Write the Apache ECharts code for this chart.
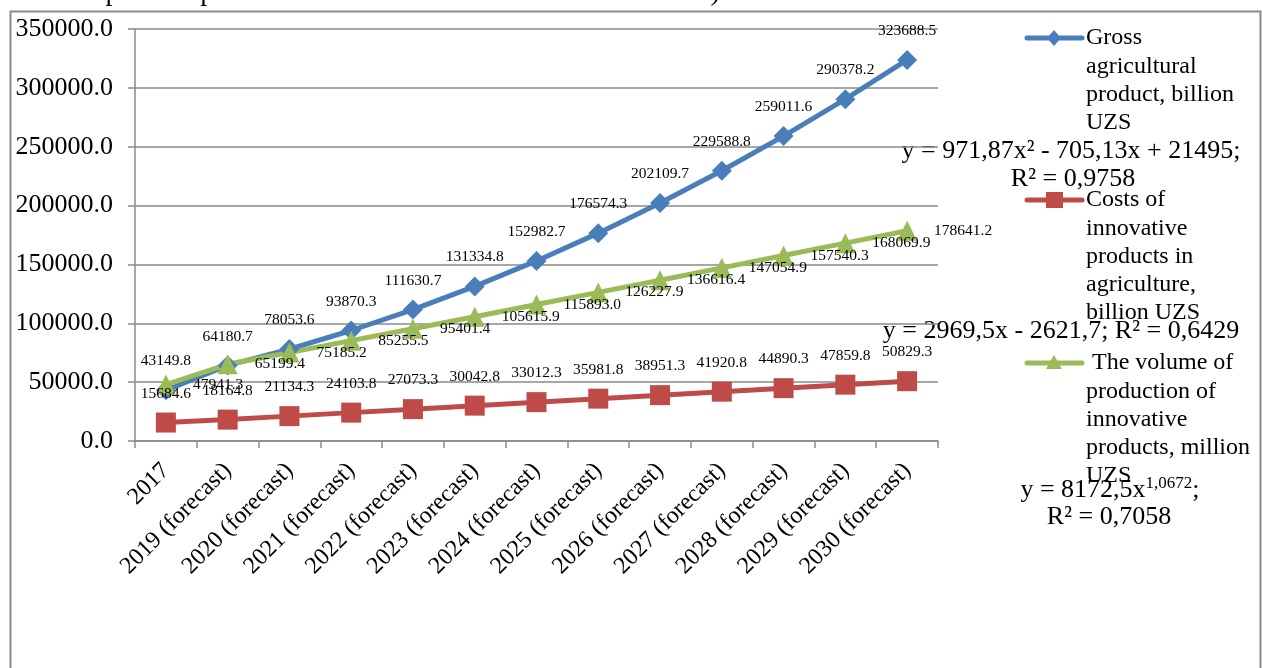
<!DOCTYPE html>
<html>
<head>
<meta charset="utf-8">
<script src="https://cdn.jsdelivr.net/npm/echarts@6/dist/echarts.min.js"></script>
<style>
html,body{margin:0;padding:0;background:#fff;}
#chart{width:1262px;height:668px;}
</style>
</head>
<body>
<div id="chart"></div>
<script>
const categories = ['2017','2019 (forecast)','2020 (forecast)','2021 (forecast)','2022 (forecast)','2023 (forecast)','2024 (forecast)','2025 (forecast)','2026 (forecast)','2027 (forecast)','2028 (forecast)','2029 (forecast)','2030 (forecast)'];
const grossAgri = [43149.8, 64180.7, 78053.6, 93870.3, 111630.7, 131334.8, 152982.7, 176574.3, 202109.7, 229588.8, 259011.6, 290378.2, 323688.5];
const innovCosts = [15684.6, 18164.8, 21134.3, 24103.8, 27073.3, 30042.8, 33012.3, 35981.8, 38951.3, 41920.8, 44890.3, 47859.8, 50829.3];
const innovVolume = [47941.3, 65199.4, 75185.2, 85255.5, 95401.4, 105615.9, 115893.0, 126227.9, 136616.4, 147054.9, 157540.3, 168069.9, 178641.2];
const seriesNames = ['Gross agricultural product, billion UZS', 'Costs of innovative products in agriculture, billion UZS', 'The volume of production of innovative products, million UZS'];
const legendLines = [
  ['Gross', 'agricultural', 'product, billion', 'UZS'],
  ['Costs of', 'innovative', 'products in', 'agriculture,', 'billion UZS'],
  [' The volume of', 'production of', 'innovative', 'products, million', 'UZS']
];
const trendEq1 = ['y = 971,87x² - 705,13x + 21495;', 'R² = 0,9758'];
const trendEq2 = 'y = 2969,5x - 2621,7; R² = 0,6429';
const trendEq3 = ['y = 8172,5x', '1,0672', ';', 'R² = 0,7058'];
const topText = 'ricultural output is expected to increase to 323688.5 billion – times).';
const yMin = 0, yMax = 350000, yStep = 50000;

const FONT = "'Liberation Serif', 'Times New Roman', serif";
const colors = ['#4A7EBB', '#BE4B48', '#9BBB59'];
const symbols = ['diamond', 'rect', 'triangle'];

const chart = echarts.init(document.getElementById('chart'), null, {renderer: 'canvas'});

const graphics = [];
// outer frame
graphics.push({type:'rect', left:8, top:9, z:-10, silent:true,
  shape:{x:0,y:0,width:1250,height:700}, style:{fill:'none', stroke:'#8a8a8a', lineWidth:2}});
// cut-off text at top
graphics.push({type:'text', x:-40, y:7, silent:true,
  style:{text:topText, font:'28px ' + FONT, fill:'#000', textVerticalAlign:'bottom', textAlign:'left'}});

// legend
const legendY = [38, 200, 363];
const legendSym = {
  diamond: (cx, cy) => ({type:'polygon', shape:{points:[[cx,cy-8],[cx+7,cy],[cx,cy+8],[cx-7,cy]]}}),
  rect: (cx, cy) => ({type:'rect', shape:{x:cx-8,y:cy-8,width:17,height:16}}),
  triangle: (cx, cy) => ({type:'polygon', shape:{points:[[cx,cy-8],[cx+8,cy+6],[cx-8,cy+6]]}})
};
for (let i = 0; i < 3; i++) {
  const y = legendY[i];
  graphics.push({type:'line', silent:true, shape:{x1:1027,y1:y,x2:1082,y2:y},
    style:{stroke:colors[i], lineWidth:5, lineCap:'round'}});
  const s = legendSym[symbols[i]](1054, y);
  s.silent = true; s.style = {fill:colors[i]};
  graphics.push(s);
  legendLines[i].forEach((t, k) => {
    graphics.push({type:'text', silent:true, x:1086, y:y + k*28.3,
      style:{text:t, font:'24px ' + FONT, fill:'#000', textAlign:'left', textVerticalAlign:'middle'}});
  });
}
// trendline equations
graphics.push({type:'text', silent:true, x:1071, y:151,
  style:{text:trendEq1[0], font:'26px ' + FONT, fill:'#000', textAlign:'center', textVerticalAlign:'middle'}});
graphics.push({type:'text', silent:true, x:1073, y:179,
  style:{text:trendEq1[1], font:'26px ' + FONT, fill:'#000', textAlign:'center', textVerticalAlign:'middle'}});
graphics.push({type:'text', silent:true, x:1061, y:331,
  style:{text:trendEq2, font:'26px ' + FONT, fill:'#000', textAlign:'center', textVerticalAlign:'middle'}});
graphics.push({type:'text', silent:true, x:1110, y:490,
  style:{text:'{n|' + trendEq3[0] + '}{s|' + trendEq3[1] + '}{n|' + trendEq3[2] + '}',
    fill:'#000', textAlign:'center', textVerticalAlign:'middle',
    rich:{n:{fontSize:26, fontFamily:FONT, lineHeight:30, fill:'#000'},
          s:{fontSize:17, fontFamily:FONT, lineHeight:17, verticalAlign:'top', fill:'#000'}}}});
graphics.push({type:'text', silent:true, x:1109, y:517,
  style:{text:trendEq3[3], font:'26px ' + FONT, fill:'#000', textAlign:'center', textVerticalAlign:'middle'}});

function mkSeries(i, data, labelPos, dist) {
  return {
    name: seriesNames[i], type:'line', data:data,
    symbol: symbols[i], symbolSize: 20,
    lineStyle:{color:colors[i], width:5, join:'round'},
    itemStyle:{color:colors[i]},
    label:{show:true, position:labelPos, distance:dist, color:'#000', fontFamily:FONT, fontSize:15.5,
      formatter: p => p.value.toFixed(1)},
    emphasis:{disabled:true},
    animation:false
  };
}

const option = {
  backgroundColor:'#fff',
  animation:false,
  textStyle:{fontFamily:FONT},
  grid:{left:135, right:324, top:29, bottom:227, containLabel:false},
  xAxis:{type:'category', data:categories, boundaryGap:true,
    axisLine:{lineStyle:{color:'#8a8a8a', width:1.5}},
    axisTick:{show:true, length:7, alignWithLabel:false, lineStyle:{color:'#8a8a8a', width:1.5}},
    axisLabel:{rotate:45, margin:26, color:'#000', fontSize:24, fontFamily:FONT, interval:0},
    splitLine:{show:false}},
  yAxis:{type:'value', min:yMin, max:yMax, interval:yStep,
    axisLine:{show:true, lineStyle:{color:'#8a8a8a', width:1.5}},
    axisTick:{show:true, length:7, lineStyle:{color:'#8a8a8a', width:1.5}},
    axisLabel:{margin:22, color:'#000', fontSize:26, fontFamily:FONT, formatter: v => v.toFixed(1)},
    splitLine:{show:true, lineStyle:{color:'#8a8a8a', width:1.5}}},
  series:[
    mkSeries(0, grossAgri, 'top', 11),
    mkSeries(1, innovCosts, 'top', 11),
    mkSeries(2, innovVolume, 'right', 17)
  ],
  graphic: graphics
};
chart.setOption(option);
</script>
</body>
</html>
